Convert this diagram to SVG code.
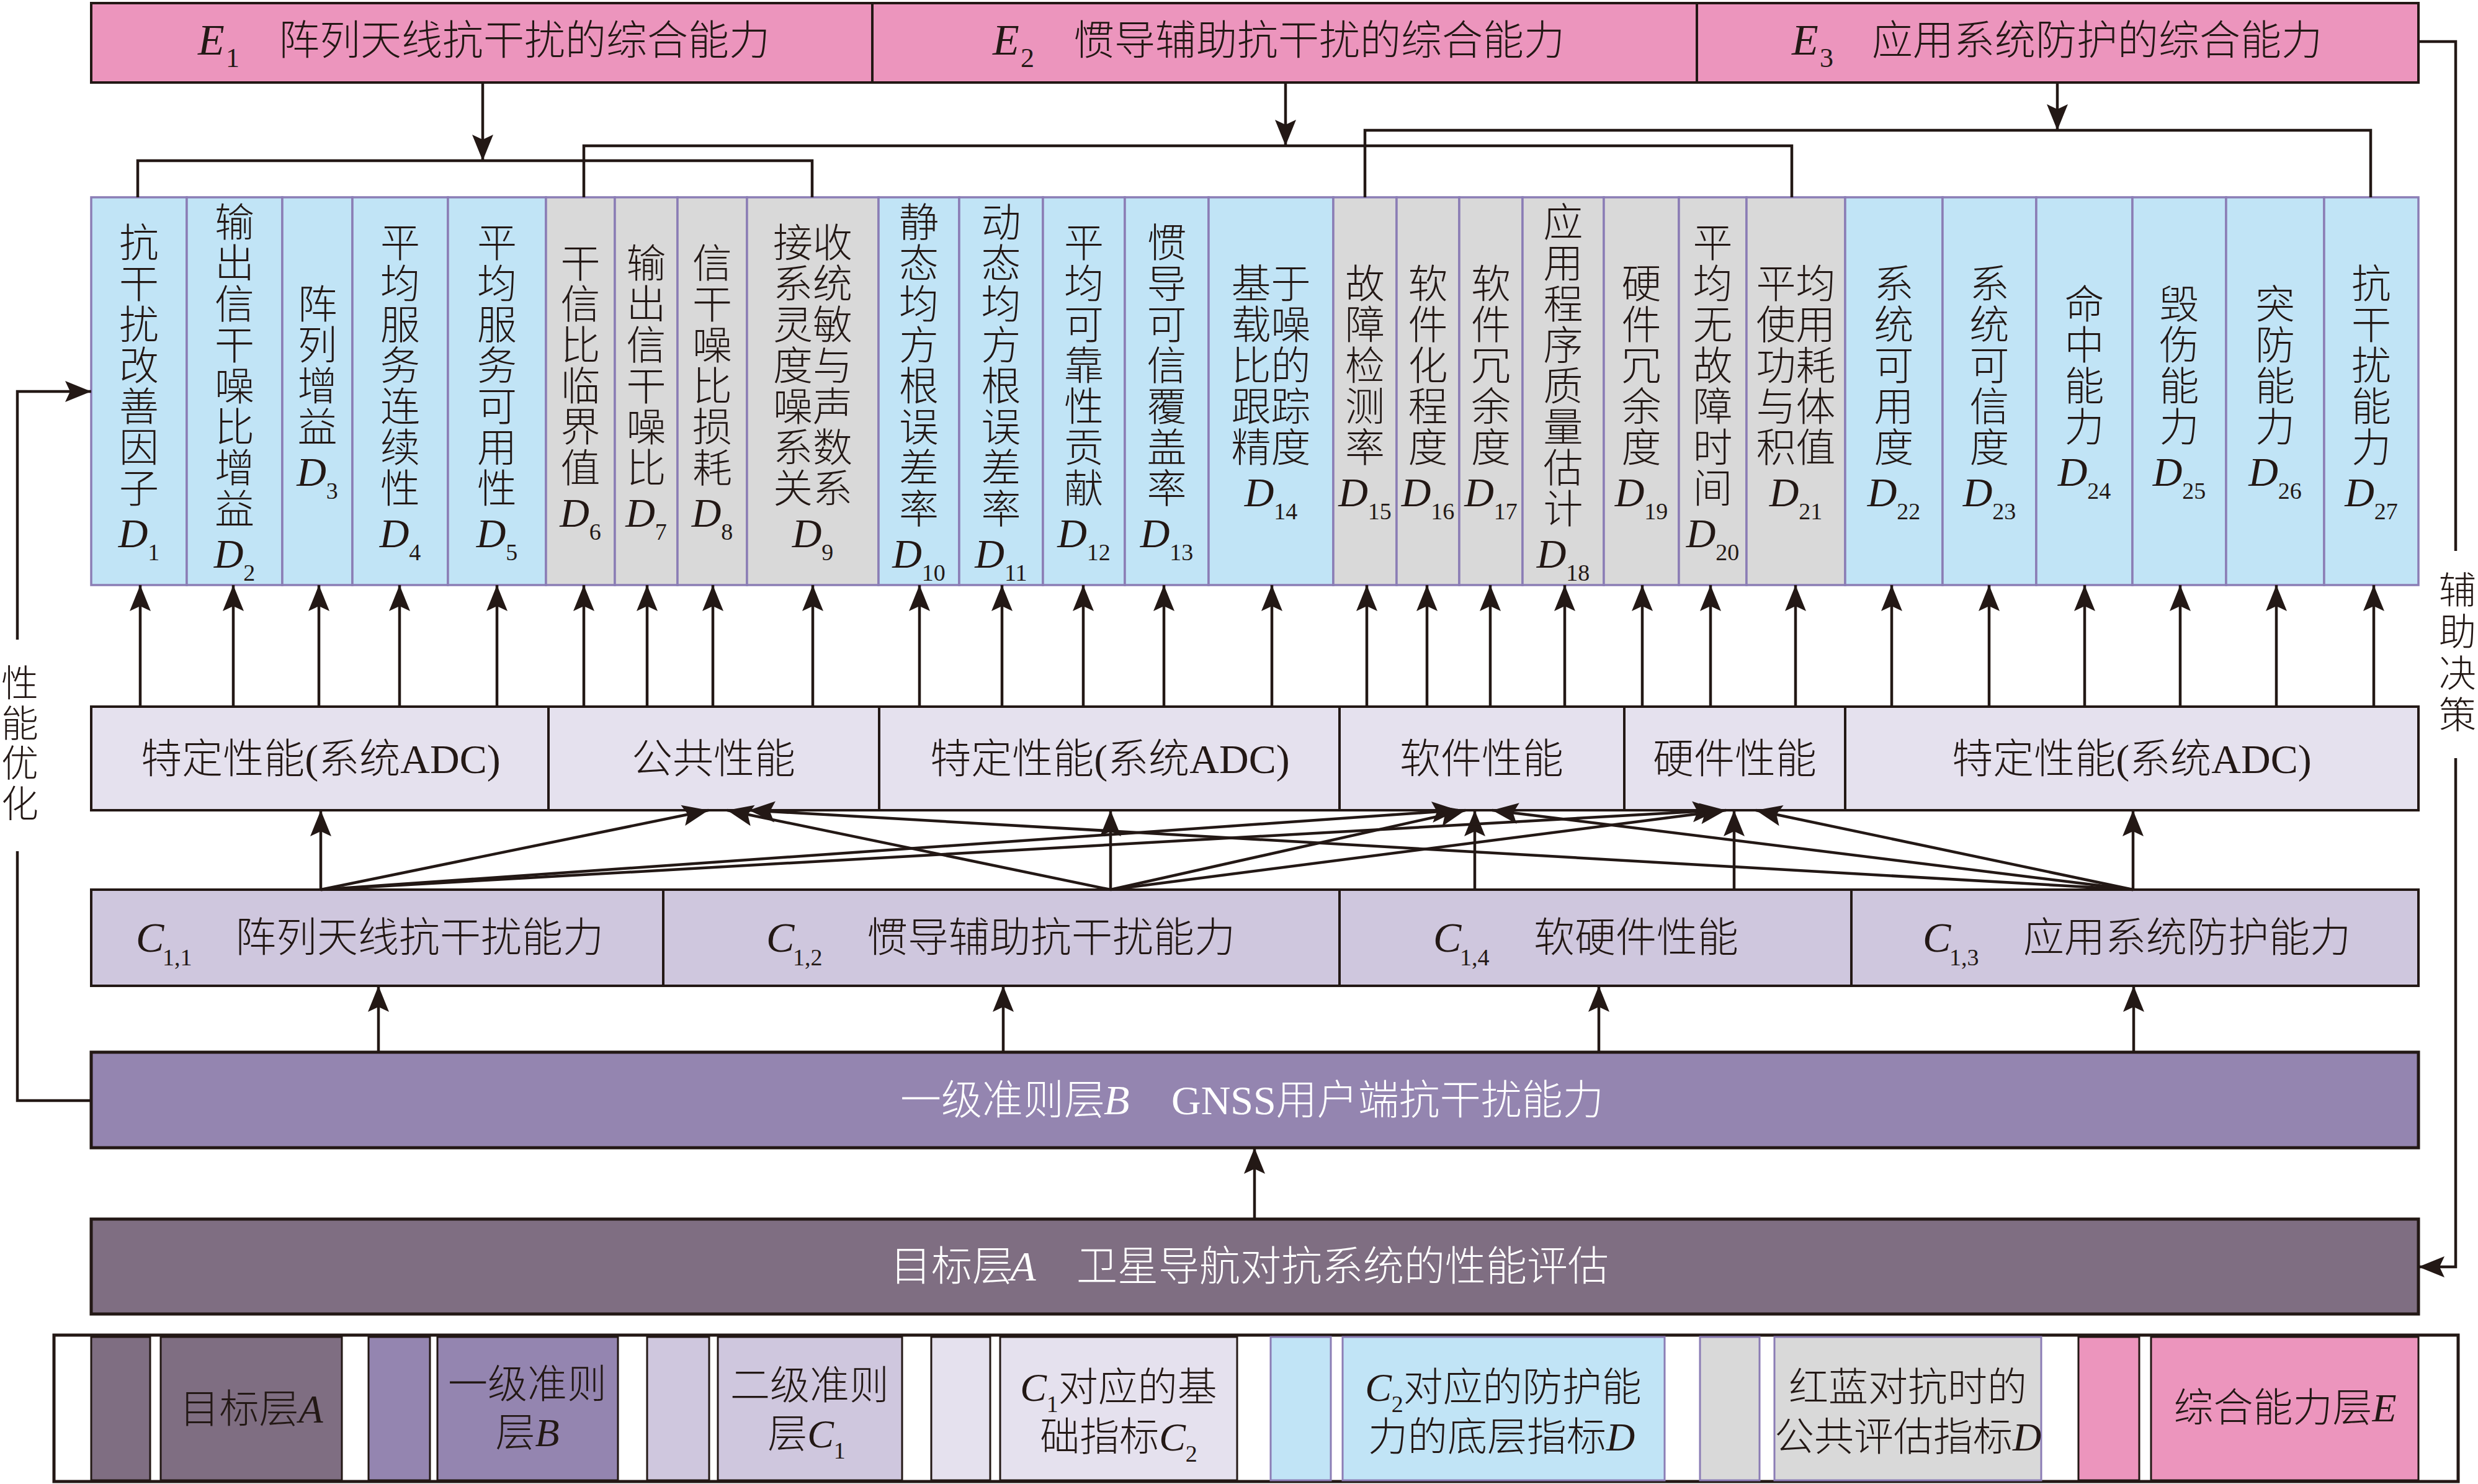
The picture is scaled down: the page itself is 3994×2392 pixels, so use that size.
<svg xmlns="http://www.w3.org/2000/svg" width="3994" height="2392" viewBox="0 0 3994 2392">
<defs>
<style>
.t{font-family:"Liberation Serif","Noto Sans CJK SC",serif;fill:#231815;font-weight:300}
.w{fill:#ffffff}
.it{font-style:italic}
.v{font-family:"Liberation Serif","Noto Sans CJK SC",serif;font-size:64px;fill:#231815;text-anchor:middle;font-weight:300}
.dl{font-family:"Liberation Serif","Noto Sans CJK SC",serif;font-size:66px;fill:#231815;text-anchor:middle}
.s{font-size:38px}
.cb{fill:#C1E4F6;stroke:#8B7DB5;stroke-width:3.5}
.cg{fill:#D9D9D9;stroke:#8B7DB5;stroke-width:3.5}
.pe{fill:#E5E1EE;stroke:#231815;stroke-width:4}
.pc{fill:#CFC7DE;stroke:#231815;stroke-width:4}
.pk{fill:#EC95BD;stroke:#231815;stroke-width:4}
.ln{stroke:#231815;stroke-width:4.5;fill:none}
.ar{stroke:#231815;stroke-width:4.5;fill:none;marker-end:url(#ah)}
.lg{font-family:"Liberation Serif","Noto Sans CJK SC",serif;font-size:64px;fill:#231815;text-anchor:middle;font-weight:300}
.m{font-family:"Liberation Serif","Noto Sans CJK SC",serif;font-size:66px;fill:#231815;text-anchor:middle;font-weight:300}
</style>
<marker id="ah" markerUnits="userSpaceOnUse" markerWidth="50" markerHeight="40" viewBox="-45 -20 50 40" refX="0" refY="0" orient="auto">
<path d="M0,0 L-42,-17 L-34,0 L-42,17 Z" fill="#231815"/>
</marker>
</defs>
<rect x="0" y="0" width="3994" height="2392" fill="#ffffff"/>

<!-- E layer -->
<g id="E1">
<rect class="pk" x="147" y="5" width="1259" height="128"/>
<text class="t" y="88"><tspan x="319" class="it" font-size="70">E</tspan><tspan x="364" y="108" font-size="44">1</tspan><tspan x="449" y="88" font-size="66">阵列天线抗干扰的综合能力</tspan></text>
</g>
<g id="E2">
<rect class="pk" x="1406" y="5" width="1329" height="128"/>
<text class="t" y="88"><tspan x="1600" class="it" font-size="70">E</tspan><tspan x="1645" y="108" font-size="44">2</tspan><tspan x="1730" y="88" font-size="66">惯导辅助抗干扰的综合能力</tspan></text>
</g>
<g id="E3">
<rect class="pk" x="2735" y="5" width="1163" height="128"/>
<text class="t" y="88"><tspan x="2888" class="it" font-size="70">E</tspan><tspan x="2933" y="108" font-size="44">3</tspan><tspan x="3017" y="88" font-size="66">应用系统防护的综合能力</tspan></text>
</g>

<!-- D layer -->
<g id="D1"><rect class="cb" x="147" y="318" width="154" height="625"/><text class="v" y="413.5"><tspan x="224">抗</tspan><tspan x="224" dy="66">干</tspan><tspan x="224" dy="66">扰</tspan><tspan x="224" dy="66">改</tspan><tspan x="224" dy="66">善</tspan><tspan x="224" dy="66">因</tspan><tspan x="224" dy="66">子</tspan></text><text class="dl" x="224" y="881.5"><tspan class="it">D</tspan><tspan class="s" dy="21">1</tspan></text></g>
<g id="D2"><rect class="cb" x="301" y="318" width="154" height="625"/><text class="v" y="380.5"><tspan x="378">输</tspan><tspan x="378" dy="66">出</tspan><tspan x="378" dy="66">信</tspan><tspan x="378" dy="66">干</tspan><tspan x="378" dy="66">噪</tspan><tspan x="378" dy="66">比</tspan><tspan x="378" dy="66">增</tspan><tspan x="378" dy="66">益</tspan></text><text class="dl" x="378" y="914.5"><tspan class="it">D</tspan><tspan class="s" dy="21">2</tspan></text></g>
<g id="D3"><rect class="cb" x="455" y="318" width="113" height="625"/><text class="v" y="512.5"><tspan x="511.5">阵</tspan><tspan x="511.5" dy="66">列</tspan><tspan x="511.5" dy="66">增</tspan><tspan x="511.5" dy="66">益</tspan></text><text class="dl" x="511.5" y="782.5"><tspan class="it">D</tspan><tspan class="s" dy="21">3</tspan></text></g>
<g id="D4"><rect class="cb" x="568" y="318" width="154" height="625"/><text class="v" y="413.5"><tspan x="645">平</tspan><tspan x="645" dy="66">均</tspan><tspan x="645" dy="66">服</tspan><tspan x="645" dy="66">务</tspan><tspan x="645" dy="66">连</tspan><tspan x="645" dy="66">续</tspan><tspan x="645" dy="66">性</tspan></text><text class="dl" x="645" y="881.5"><tspan class="it">D</tspan><tspan class="s" dy="21">4</tspan></text></g>
<g id="D5"><rect class="cb" x="722" y="318" width="158" height="625"/><text class="v" y="413.5"><tspan x="801">平</tspan><tspan x="801" dy="66">均</tspan><tspan x="801" dy="66">服</tspan><tspan x="801" dy="66">务</tspan><tspan x="801" dy="66">可</tspan><tspan x="801" dy="66">用</tspan><tspan x="801" dy="66">性</tspan></text><text class="dl" x="801" y="881.5"><tspan class="it">D</tspan><tspan class="s" dy="21">5</tspan></text></g>
<g id="D6"><rect class="cg" x="880" y="318" width="111" height="625"/><text class="v" y="446.5"><tspan x="935.5">干</tspan><tspan x="935.5" dy="66">信</tspan><tspan x="935.5" dy="66">比</tspan><tspan x="935.5" dy="66">临</tspan><tspan x="935.5" dy="66">界</tspan><tspan x="935.5" dy="66">值</tspan></text><text class="dl" x="935.5" y="848.5"><tspan class="it">D</tspan><tspan class="s" dy="21">6</tspan></text></g>
<g id="D7"><rect class="cg" x="991" y="318" width="101" height="625"/><text class="v" y="446.5"><tspan x="1041.5">输</tspan><tspan x="1041.5" dy="66">出</tspan><tspan x="1041.5" dy="66">信</tspan><tspan x="1041.5" dy="66">干</tspan><tspan x="1041.5" dy="66">噪</tspan><tspan x="1041.5" dy="66">比</tspan></text><text class="dl" x="1041.5" y="848.5"><tspan class="it">D</tspan><tspan class="s" dy="21">7</tspan></text></g>
<g id="D8"><rect class="cg" x="1092" y="318" width="112" height="625"/><text class="v" y="446.5"><tspan x="1148">信</tspan><tspan x="1148" dy="66">干</tspan><tspan x="1148" dy="66">噪</tspan><tspan x="1148" dy="66">比</tspan><tspan x="1148" dy="66">损</tspan><tspan x="1148" dy="66">耗</tspan></text><text class="dl" x="1148" y="848.5"><tspan class="it">D</tspan><tspan class="s" dy="21">8</tspan></text></g>
<g id="D9"><rect class="cg" x="1204" y="318" width="212" height="625"/><text class="v" y="413.5"><tspan x="1310">接收</tspan><tspan x="1310" dy="66">系统</tspan><tspan x="1310" dy="66">灵敏</tspan><tspan x="1310" dy="66">度与</tspan><tspan x="1310" dy="66">噪声</tspan><tspan x="1310" dy="66">系数</tspan><tspan x="1310" dy="66">关系</tspan></text><text class="dl" x="1310" y="881.5"><tspan class="it">D</tspan><tspan class="s" dy="21">9</tspan></text></g>
<g id="D10"><rect class="cb" x="1416" y="318" width="130" height="625"/><text class="v" y="380.5"><tspan x="1481">静</tspan><tspan x="1481" dy="66">态</tspan><tspan x="1481" dy="66">均</tspan><tspan x="1481" dy="66">方</tspan><tspan x="1481" dy="66">根</tspan><tspan x="1481" dy="66">误</tspan><tspan x="1481" dy="66">差</tspan><tspan x="1481" dy="66">率</tspan></text><text class="dl" x="1481" y="914.5"><tspan class="it">D</tspan><tspan class="s" dy="21">10</tspan></text></g>
<g id="D11"><rect class="cb" x="1546" y="318" width="135" height="625"/><text class="v" y="380.5"><tspan x="1613.5">动</tspan><tspan x="1613.5" dy="66">态</tspan><tspan x="1613.5" dy="66">均</tspan><tspan x="1613.5" dy="66">方</tspan><tspan x="1613.5" dy="66">根</tspan><tspan x="1613.5" dy="66">误</tspan><tspan x="1613.5" dy="66">差</tspan><tspan x="1613.5" dy="66">率</tspan></text><text class="dl" x="1613.5" y="914.5"><tspan class="it">D</tspan><tspan class="s" dy="21">11</tspan></text></g>
<g id="D12"><rect class="cb" x="1681" y="318" width="132" height="625"/><text class="v" y="413.5"><tspan x="1747">平</tspan><tspan x="1747" dy="66">均</tspan><tspan x="1747" dy="66">可</tspan><tspan x="1747" dy="66">靠</tspan><tspan x="1747" dy="66">性</tspan><tspan x="1747" dy="66">贡</tspan><tspan x="1747" dy="66">献</tspan></text><text class="dl" x="1747" y="881.5"><tspan class="it">D</tspan><tspan class="s" dy="21">12</tspan></text></g>
<g id="D13"><rect class="cb" x="1813" y="318" width="135" height="625"/><text class="v" y="413.5"><tspan x="1880.5">惯</tspan><tspan x="1880.5" dy="66">导</tspan><tspan x="1880.5" dy="66">可</tspan><tspan x="1880.5" dy="66">信</tspan><tspan x="1880.5" dy="66">覆</tspan><tspan x="1880.5" dy="66">盖</tspan><tspan x="1880.5" dy="66">率</tspan></text><text class="dl" x="1880.5" y="881.5"><tspan class="it">D</tspan><tspan class="s" dy="21">13</tspan></text></g>
<g id="D14"><rect class="cb" x="1948" y="318" width="201" height="625"/><text class="v" y="479.5"><tspan x="2048.5">基于</tspan><tspan x="2048.5" dy="66">载噪</tspan><tspan x="2048.5" dy="66">比的</tspan><tspan x="2048.5" dy="66">跟踪</tspan><tspan x="2048.5" dy="66">精度</tspan></text><text class="dl" x="2048.5" y="815.5"><tspan class="it">D</tspan><tspan class="s" dy="21">14</tspan></text></g>
<g id="D15"><rect class="cg" x="2149" y="318" width="102" height="625"/><text class="v" y="479.5"><tspan x="2200">故</tspan><tspan x="2200" dy="66">障</tspan><tspan x="2200" dy="66">检</tspan><tspan x="2200" dy="66">测</tspan><tspan x="2200" dy="66">率</tspan></text><text class="dl" x="2200" y="815.5"><tspan class="it">D</tspan><tspan class="s" dy="21">15</tspan></text></g>
<g id="D16"><rect class="cg" x="2251" y="318" width="101" height="625"/><text class="v" y="479.5"><tspan x="2301.5">软</tspan><tspan x="2301.5" dy="66">件</tspan><tspan x="2301.5" dy="66">化</tspan><tspan x="2301.5" dy="66">程</tspan><tspan x="2301.5" dy="66">度</tspan></text><text class="dl" x="2301.5" y="815.5"><tspan class="it">D</tspan><tspan class="s" dy="21">16</tspan></text></g>
<g id="D17"><rect class="cg" x="2352" y="318" width="102" height="625"/><text class="v" y="479.5"><tspan x="2403">软</tspan><tspan x="2403" dy="66">件</tspan><tspan x="2403" dy="66">冗</tspan><tspan x="2403" dy="66">余</tspan><tspan x="2403" dy="66">度</tspan></text><text class="dl" x="2403" y="815.5"><tspan class="it">D</tspan><tspan class="s" dy="21">17</tspan></text></g>
<g id="D18"><rect class="cg" x="2454" y="318" width="131" height="625"/><text class="v" y="380.5"><tspan x="2519.5">应</tspan><tspan x="2519.5" dy="66">用</tspan><tspan x="2519.5" dy="66">程</tspan><tspan x="2519.5" dy="66">序</tspan><tspan x="2519.5" dy="66">质</tspan><tspan x="2519.5" dy="66">量</tspan><tspan x="2519.5" dy="66">估</tspan><tspan x="2519.5" dy="66">计</tspan></text><text class="dl" x="2519.5" y="914.5"><tspan class="it">D</tspan><tspan class="s" dy="21">18</tspan></text></g>
<g id="D19"><rect class="cg" x="2585" y="318" width="121" height="625"/><text class="v" y="479.5"><tspan x="2645.5">硬</tspan><tspan x="2645.5" dy="66">件</tspan><tspan x="2645.5" dy="66">冗</tspan><tspan x="2645.5" dy="66">余</tspan><tspan x="2645.5" dy="66">度</tspan></text><text class="dl" x="2645.5" y="815.5"><tspan class="it">D</tspan><tspan class="s" dy="21">19</tspan></text></g>
<g id="D20"><rect class="cg" x="2706" y="318" width="109" height="625"/><text class="v" y="413.5"><tspan x="2760.5">平</tspan><tspan x="2760.5" dy="66">均</tspan><tspan x="2760.5" dy="66">无</tspan><tspan x="2760.5" dy="66">故</tspan><tspan x="2760.5" dy="66">障</tspan><tspan x="2760.5" dy="66">时</tspan><tspan x="2760.5" dy="66">间</tspan></text><text class="dl" x="2760.5" y="881.5"><tspan class="it">D</tspan><tspan class="s" dy="21">20</tspan></text></g>
<g id="D21"><rect class="cg" x="2815" y="318" width="159" height="625"/><text class="v" y="479.5"><tspan x="2894.5">平均</tspan><tspan x="2894.5" dy="66">使用</tspan><tspan x="2894.5" dy="66">功耗</tspan><tspan x="2894.5" dy="66">与体</tspan><tspan x="2894.5" dy="66">积值</tspan></text><text class="dl" x="2894.5" y="815.5"><tspan class="it">D</tspan><tspan class="s" dy="21">21</tspan></text></g>
<g id="D22"><rect class="cb" x="2974" y="318" width="157" height="625"/><text class="v" y="479.5"><tspan x="3052.5">系</tspan><tspan x="3052.5" dy="66">统</tspan><tspan x="3052.5" dy="66">可</tspan><tspan x="3052.5" dy="66">用</tspan><tspan x="3052.5" dy="66">度</tspan></text><text class="dl" x="3052.5" y="815.5"><tspan class="it">D</tspan><tspan class="s" dy="21">22</tspan></text></g>
<g id="D23"><rect class="cb" x="3131" y="318" width="151" height="625"/><text class="v" y="479.5"><tspan x="3206.5">系</tspan><tspan x="3206.5" dy="66">统</tspan><tspan x="3206.5" dy="66">可</tspan><tspan x="3206.5" dy="66">信</tspan><tspan x="3206.5" dy="66">度</tspan></text><text class="dl" x="3206.5" y="815.5"><tspan class="it">D</tspan><tspan class="s" dy="21">23</tspan></text></g>
<g id="D24"><rect class="cb" x="3282" y="318" width="155" height="625"/><text class="v" y="512.5"><tspan x="3359.5">命</tspan><tspan x="3359.5" dy="66">中</tspan><tspan x="3359.5" dy="66">能</tspan><tspan x="3359.5" dy="66">力</tspan></text><text class="dl" x="3359.5" y="782.5"><tspan class="it">D</tspan><tspan class="s" dy="21">24</tspan></text></g>
<g id="D25"><rect class="cb" x="3437" y="318" width="151" height="625"/><text class="v" y="512.5"><tspan x="3512.5">毁</tspan><tspan x="3512.5" dy="66">伤</tspan><tspan x="3512.5" dy="66">能</tspan><tspan x="3512.5" dy="66">力</tspan></text><text class="dl" x="3512.5" y="782.5"><tspan class="it">D</tspan><tspan class="s" dy="21">25</tspan></text></g>
<g id="D26"><rect class="cb" x="3588" y="318" width="158" height="625"/><text class="v" y="512.5"><tspan x="3667">突</tspan><tspan x="3667" dy="66">防</tspan><tspan x="3667" dy="66">能</tspan><tspan x="3667" dy="66">力</tspan></text><text class="dl" x="3667" y="782.5"><tspan class="it">D</tspan><tspan class="s" dy="21">26</tspan></text></g>
<g id="D27"><rect class="cb" x="3746" y="318" width="152" height="625"/><text class="v" y="479.5"><tspan x="3822">抗</tspan><tspan x="3822" dy="66">干</tspan><tspan x="3822" dy="66">扰</tspan><tspan x="3822" dy="66">能</tspan><tspan x="3822" dy="66">力</tspan></text><text class="dl" x="3822" y="815.5"><tspan class="it">D</tspan><tspan class="s" dy="21">27</tspan></text></g>

<!-- performance row -->
<g id="P1"><rect class="pe" x="147" y="1139" width="737" height="167"/><text class="m" x="517" y="1246">特定性能(系统ADC)</text></g>
<g id="P2"><rect class="pe" x="884" y="1139" width="533" height="167"/><text class="m" x="1150" y="1246">公共性能</text></g>
<g id="P3"><rect class="pe" x="1417" y="1139" width="742" height="167"/><text class="m" x="1789" y="1246">特定性能(系统ADC)</text></g>
<g id="P4"><rect class="pe" x="2159" y="1139" width="459" height="167"/><text class="m" x="2388" y="1246">软件性能</text></g>
<g id="P5"><rect class="pe" x="2618" y="1139" width="356" height="167"/><text class="m" x="2796" y="1246">硬件性能</text></g>
<g id="P6"><rect class="pe" x="2974" y="1139" width="924" height="167"/><text class="m" x="3436" y="1246">特定性能(系统ADC)</text></g>

<!-- C layer -->
<g id="C11"><rect class="pc" x="147" y="1434" width="922" height="155"/><text class="t" y="1534"><tspan x="219" class="it" font-size="68">C</tspan><tspan x="262" y="1556" font-size="38">1,1</tspan><tspan x="379" y="1534" font-size="66">阵列天线抗干扰能力</tspan></text></g>
<g id="C12"><rect class="pc" x="1069" y="1434" width="1090" height="155"/><text class="t" y="1534"><tspan x="1235" class="it" font-size="68">C</tspan><tspan x="1278" y="1556" font-size="38">1,2</tspan><tspan x="1397" y="1534" font-size="66">惯导辅助抗干扰能力</tspan></text></g>
<g id="C14"><rect class="pc" x="2159" y="1434" width="825" height="155"/><text class="t" y="1534"><tspan x="2310" class="it" font-size="68">C</tspan><tspan x="2353" y="1556" font-size="38">1,4</tspan><tspan x="2472" y="1534" font-size="66">软硬件性能</tspan></text></g>
<g id="C13"><rect class="pc" x="2984" y="1434" width="914" height="155"/><text class="t" y="1534"><tspan x="3099" class="it" font-size="68">C</tspan><tspan x="3142" y="1556" font-size="38">1,3</tspan><tspan x="3261" y="1534" font-size="66">应用系统防护能力</tspan></text></g>

<!-- B layer -->
<g id="B"><rect x="147" y="1696" width="3751" height="154" fill="#9485B0" stroke="#231815" stroke-width="5"/><text class="t w" y="1796"><tspan x="1451" font-size="66">一级准则层</tspan><tspan x="1779" class="it" font-size="68">B</tspan><tspan x="1888" font-size="66">GNSS用户端抗干扰能力</tspan></text></g>

<!-- A layer -->
<g id="A"><rect x="147" y="1965" width="3751" height="153" fill="#7F6E82" stroke="#231815" stroke-width="5"/><text class="t w" y="2064"><tspan x="1435" font-size="66">目标层</tspan><tspan x="1628" class="it" font-size="68">A</tspan><tspan x="1735" font-size="66">卫星导航对抗系统的性能评估</tspan></text></g>

<!-- side labels -->
<g id="opt"><text class="t" font-size="60" text-anchor="middle" y="1123"><tspan x="32">性</tspan><tspan x="32" dy="64.5">能</tspan><tspan x="32" dy="64.5">优</tspan><tspan x="32" dy="64.5">化</tspan></text></g>
<g id="dec"><text class="t" font-size="60" text-anchor="middle" y="973"><tspan x="3961">辅</tspan><tspan x="3961" dy="67">助</tspan><tspan x="3961" dy="67">决</tspan><tspan x="3961" dy="67">策</tspan></text></g>

<!-- connectors -->
<g id="connectors">
<line class="ar" x1="778" y1="133" x2="778" y2="259"/>
<polyline class="ln" points="222,318 222,259 1309,259 1309,318"/>
<line class="ar" x1="2072" y1="133" x2="2072" y2="235"/>
<polyline class="ln" points="941,318 941,235 2888,235 2888,318"/>
<line class="ar" x1="3316" y1="133" x2="3316" y2="210"/>
<polyline class="ln" points="2200,318 2200,210 3821,210 3821,318"/>

<line class="ar" x1="226" y1="1139" x2="226" y2="943"/>
<line class="ar" x1="376" y1="1139" x2="376" y2="943"/>
<line class="ar" x1="514" y1="1139" x2="514" y2="943"/>
<line class="ar" x1="644" y1="1139" x2="644" y2="943"/>
<line class="ar" x1="801" y1="1139" x2="801" y2="943"/>
<line class="ar" x1="941" y1="1139" x2="941" y2="943"/>
<line class="ar" x1="1043" y1="1139" x2="1043" y2="943"/>
<line class="ar" x1="1149" y1="1139" x2="1149" y2="943"/>
<line class="ar" x1="1310" y1="1139" x2="1310" y2="943"/>
<line class="ar" x1="1482" y1="1139" x2="1482" y2="943"/>
<line class="ar" x1="1615" y1="1139" x2="1615" y2="943"/>
<line class="ar" x1="1746" y1="1139" x2="1746" y2="943"/>
<line class="ar" x1="1876" y1="1139" x2="1876" y2="943"/>
<line class="ar" x1="2050" y1="1139" x2="2050" y2="943"/>
<line class="ar" x1="2203" y1="1139" x2="2203" y2="943"/>
<line class="ar" x1="2300" y1="1139" x2="2300" y2="943"/>
<line class="ar" x1="2402" y1="1139" x2="2402" y2="943"/>
<line class="ar" x1="2522" y1="1139" x2="2522" y2="943"/>
<line class="ar" x1="2647" y1="1139" x2="2647" y2="943"/>
<line class="ar" x1="2757" y1="1139" x2="2757" y2="943"/>
<line class="ar" x1="2894" y1="1139" x2="2894" y2="943"/>
<line class="ar" x1="3049" y1="1139" x2="3049" y2="943"/>
<line class="ar" x1="3206" y1="1139" x2="3206" y2="943"/>
<line class="ar" x1="3360" y1="1139" x2="3360" y2="943"/>
<line class="ar" x1="3514" y1="1139" x2="3514" y2="943"/>
<line class="ar" x1="3669" y1="1139" x2="3669" y2="943"/>
<line class="ar" x1="3826" y1="1139" x2="3826" y2="943"/>

<line class="ar" x1="517" y1="1434" x2="517" y2="1306"/>
<line class="ar" x1="1790" y1="1434" x2="1790" y2="1306"/>
<line class="ar" x1="2377" y1="1434" x2="2377" y2="1306"/>
<line class="ar" x1="2795" y1="1434" x2="2795" y2="1306"/>
<line class="ar" x1="3438" y1="1434" x2="3438" y2="1306"/>
<line class="ar" x1="517" y1="1434" x2="1142" y2="1306"/>
<line class="ar" x1="517" y1="1434" x2="2350" y2="1306"/>
<line class="ar" x1="517" y1="1434" x2="2770" y2="1306"/>
<line class="ar" x1="1790" y1="1434" x2="1172" y2="1306"/>
<line class="ar" x1="1790" y1="1434" x2="2362" y2="1306"/>
<line class="ar" x1="1790" y1="1434" x2="2782" y2="1306"/>
<line class="ar" x1="3438" y1="1434" x2="1207" y2="1306"/>
<line class="ar" x1="3438" y1="1434" x2="2405" y2="1306"/>
<line class="ar" x1="3438" y1="1434" x2="2830" y2="1306"/>

<line class="ar" x1="610" y1="1696" x2="610" y2="1589"/>
<line class="ar" x1="1617" y1="1696" x2="1617" y2="1589"/>
<line class="ar" x1="2577" y1="1696" x2="2577" y2="1589"/>
<line class="ar" x1="3439" y1="1696" x2="3439" y2="1589"/>
<line class="ar" x1="2022" y1="1965" x2="2022" y2="1850"/>

<polyline class="ln" points="147,1774 28,1774 28,1372"/>
<polyline class="ar" points="28,1031 28,631 147,631"/>
<polyline class="ln" points="3898,67 3958,67 3958,888"/>
<polyline class="ar" points="3958,1222 3958,2042 3898,2042"/>
</g>

<!-- legend -->
<g id="legend">
<rect x="87" y="2152" width="3875" height="236" fill="#ffffff" stroke="#231815" stroke-width="5"/>
<g id="legA"><rect x="147" y="2155" width="95" height="231" fill="#7F6E82" stroke="#231815" stroke-width="3"/><rect x="259" y="2155" width="292" height="231" fill="#7F6E82" stroke="#231815" stroke-width="3"/><text class="lg w" x="405" y="2293">目标层<tspan class="it">A</tspan></text></g>
<g id="legB"><rect x="594" y="2155" width="99" height="231" fill="#9485B0" stroke="#231815" stroke-width="3"/><rect x="705" y="2155" width="291" height="231" fill="#9485B0" stroke="#231815" stroke-width="3"/><text class="lg w" x="850" y="2253">一级准则</text><text class="lg w" x="850" y="2331">层<tspan class="it">B</tspan></text></g>
<g id="legC1"><rect x="1043" y="2155" width="100" height="231" fill="#CFC7DE" stroke="#231815" stroke-width="3"/><rect x="1157" y="2155" width="297" height="231" fill="#CFC7DE" stroke="#231815" stroke-width="3"/><text class="lg" x="1305" y="2255">二级准则</text><text class="lg" x="1300" y="2333">层<tspan class="it">C</tspan><tspan class="s" dy="18">1</tspan></text></g>
<g id="legC2"><rect x="1501" y="2155" width="95" height="231" fill="#E5E1EE" stroke="#231815" stroke-width="3"/><rect x="1612" y="2155" width="382" height="231" fill="#E5E1EE" stroke="#231815" stroke-width="3"/><text class="lg" x="1803" y="2258"><tspan class="it">C</tspan><tspan class="s" dy="18">1</tspan><tspan dy="-18">对应的基</tspan></text><text class="lg" x="1803" y="2338">础指标<tspan class="it">C</tspan><tspan class="s" dy="18">2</tspan></text></g>
<g id="legD1"><rect x="2048" y="2155" width="97" height="231" fill="#C1E4F6" stroke="#8B7DB5" stroke-width="3"/><rect x="2164" y="2155" width="519" height="231" fill="#C1E4F6" stroke="#8B7DB5" stroke-width="3"/><text class="lg" x="2423" y="2258"><tspan class="it">C</tspan><tspan class="s" dy="18">2</tspan><tspan dy="-18">对应的防护能</tspan></text><text class="lg" x="2420" y="2338">力的底层指标<tspan class="it">D</tspan></text></g>
<g id="legD2"><rect x="2740" y="2155" width="96" height="231" fill="#D9D9D9" stroke="#8B7DB5" stroke-width="3"/><rect x="2860" y="2155" width="430" height="231" fill="#D9D9D9" stroke="#8B7DB5" stroke-width="3"/><text class="lg" x="3075" y="2258">红蓝对抗时的</text><text class="lg" x="3075" y="2338">公共评估指标<tspan class="it">D</tspan></text></g>
<g id="legE"><rect x="3350" y="2155" width="98" height="231" fill="#EC95BD" stroke="#231815" stroke-width="3"/><rect x="3467" y="2155" width="431" height="231" fill="#EC95BD" stroke="#231815" stroke-width="3"/><text class="lg" x="3683" y="2291">综合能力层<tspan class="it">E</tspan></text></g>
</g>
</svg>
